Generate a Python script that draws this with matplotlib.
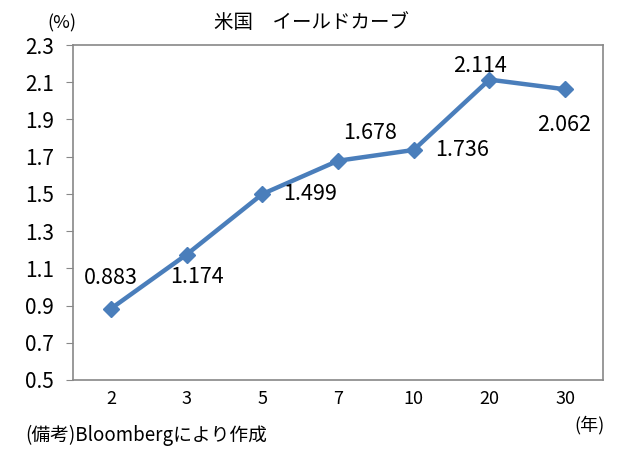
import matplotlib
matplotlib.use("Agg")
import matplotlib.pyplot as plt

plt.rcParams['font.family'] = ['Noto Sans CJK JP', 'DejaVu Sans']

categories = ["2", "3", "5", "7", "10", "20", "30"]
yields = [0.883, 1.174, 1.499, 1.678, 1.736, 2.114, 2.062]
label_offsets = [(0, 31), (10, -22), (48, 0), (32, 28), (48, 0), (-9, 14), (-1, -36)]
yticks = [0.5, 0.7, 0.9, 1.1, 1.3, 1.5, 1.7, 1.9, 2.1, 2.3]

W, H = 624, 455
fig = plt.figure(figsize=(W/100, H/100), dpi=100)
L, R, T, B = 73, 603, 45, 380
ax = fig.add_axes([L/W, 1-B/H, (R-L)/W, (B-T)/H])

x = list(range(len(categories)))
color = "#4A7EBB"
ax.plot(x, yields, color=color, lw=3.2, marker="D", ms=8, mfc=color, mec=color, zorder=3)

for xi, v, (dx, dy) in zip(x, yields, label_offsets):
    ax.annotate(f"{v:.3f}", (xi, v), xytext=(dx*0.72, dy*0.72), textcoords="offset points",
                ha="center", va="center", fontsize=15.5)

ax.set_xlim(-0.5, len(categories) - 0.5)
ax.set_ylim(0.5, 2.3)
ax.set_yticks(yticks)
ax.set_yticklabels([f"{t:.1f}" for t in yticks], fontsize=15)
ax.set_xticks(x)
ax.set_xticklabels(categories, fontsize=13)
ax.tick_params(axis="x", length=0, pad=7)
ax.tick_params(axis="y", length=5, color="#888888", pad=8.5)
for s in ax.spines.values():
    s.set_color("#888888")
    s.set_linewidth(1.2)

fig.text(0.5, 1-22/H, "米国　イールドカーブ", ha="center", va="center", fontsize=14)
fig.text(62/W, 1-23/H, "(%)", ha="center", va="center", fontsize=13)
fig.text(590/W, 1-425/H, "(年)", ha="center", va="center", fontsize=13)
fig.text(25/W, 1-435/H, "(備考)Bloombergにより作成", ha="left", va="center", fontsize=13.5)

fig.savefig("out.png", dpi=100)
